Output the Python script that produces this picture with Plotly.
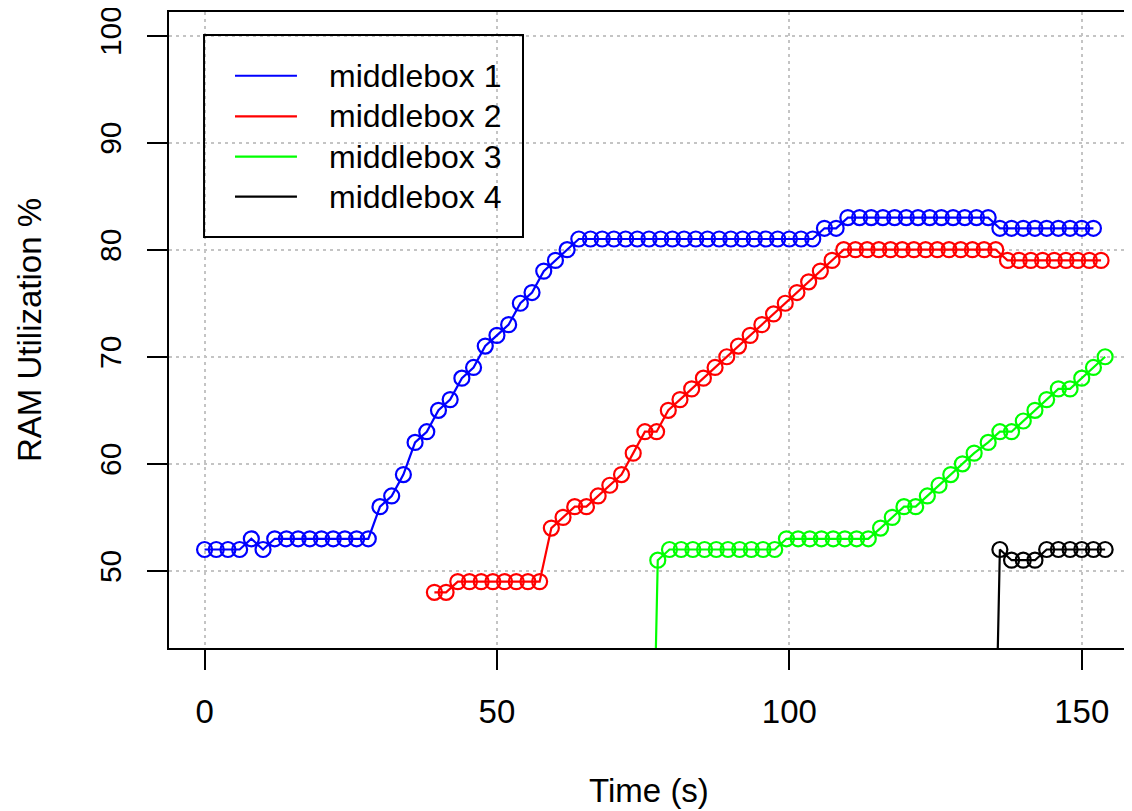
import plotly.graph_objects as go

# ---- data ----
series_names = ["middlebox 1", "middlebox 2", "middlebox 3", "middlebox 4"]
series_colors = ["#0000FF", "#FF0000", "#00FF00", "#000000"]

mb1_time = [0, 2, 4, 6, 8, 10, 12, 14, 16, 18, 20, 22, 24, 26, 28, 30, 32, 34, 36, 38,
            40, 42, 44, 46, 48, 50, 52, 54, 56, 58, 60, 62, 64, 66, 68, 70, 72, 74, 76, 78,
            80, 82, 84, 86, 88, 90, 92, 94, 96, 98, 100, 102, 104, 106, 108, 110, 112, 114,
            116, 118, 120, 122, 124, 126, 128, 130, 132, 134, 136, 138, 140, 142, 144, 146,
            148, 150, 152]
mb1_ram = [52, 52, 52, 52, 53, 52, 53, 53, 53, 53, 53, 53, 53, 53, 53, 56, 57, 59, 62, 63,
           65, 66, 68, 69, 71, 72, 73, 75, 76, 78, 79, 80, 81, 81, 81, 81, 81, 81, 81, 81,
           81, 81, 81, 81, 81, 81, 81, 81, 81, 81, 81, 81, 81, 82, 82, 83, 83, 83, 83, 83,
           83, 83, 83, 83, 83, 83, 83, 83, 82, 82, 82, 82, 82, 82, 82, 82, 82]

mb2_time = [39.3, 41.3, 43.3, 45.3, 47.3, 49.3, 51.3, 53.3, 55.3, 57.3, 59.3, 61.3, 63.3,
            65.3, 67.3, 69.3, 71.3, 73.3, 75.3, 77.3, 79.3, 81.3, 83.3, 85.3, 87.3, 89.3,
            91.3, 93.3, 95.3, 97.3, 99.3, 101.3, 103.3, 105.3, 107.3, 109.3, 111.3, 113.3,
            115.3, 117.3, 119.3, 121.3, 123.3, 125.3, 127.3, 129.3, 131.3, 133.3, 135.3,
            137.3, 139.3, 141.3, 143.3, 145.3, 147.3, 149.3, 151.3, 153.3]
mb2_ram = [48, 48, 49, 49, 49, 49, 49, 49, 49, 49, 54, 55, 56, 56, 57, 58, 59, 61, 63, 63,
           65, 66, 67, 68, 69, 70, 71, 72, 73, 74, 75, 76, 77, 78, 79, 80, 80, 80, 80, 80,
           80, 80, 80, 80, 80, 80, 80, 80, 80, 79, 79, 79, 79, 79, 79, 79, 79, 79]

mb3_time = [75.5, 77.5, 79.5, 81.5, 83.5, 85.5, 87.5, 89.5, 91.5, 93.5, 95.5, 97.5, 99.5,
            101.5, 103.5, 105.5, 107.5, 109.5, 111.5, 113.5, 115.6, 117.6, 119.6, 121.6,
            123.6, 125.6, 127.6, 129.6, 131.6, 134.0, 136.0, 138.0, 140.0, 142.0, 144.0,
            146.0, 148.0, 150.0, 152.0, 154.0]
mb3_ram = [0, 51, 52, 52, 52, 52, 52, 52, 52, 52, 52, 52, 53, 53, 53, 53, 53, 53, 53, 53,
           54, 55, 56, 56, 57, 58, 59, 60, 61, 62, 63, 63, 64, 65, 66, 67, 67, 68, 69, 70]

mb4_time = [134, 136, 138, 140, 142, 144, 146, 148, 150, 152, 154]
mb4_ram = [0, 52, 51, 51, 51, 52, 52, 52, 52, 52, 52]

x_ticks = [0, 50, 100, 150]
y_ticks = [50, 60, 70, 80, 90, 100]
x_range = [-6.08, 158.08]
y_range = [42.8, 102.2]

times = [mb1_time, mb2_time, mb3_time, mb4_time]
values = [mb1_ram, mb2_ram, mb3_ram, mb4_ram]

fig = go.Figure()
for name, col, t, v in zip(series_names, series_colors, times, values):
    fig.add_trace(go.Scatter(
        x=t, y=v, mode="lines+markers", name=name, showlegend=False,
        line=dict(color=col, width=2.2),
        marker=dict(symbol="circle-open", size=15, color=col, line=dict(color=col, width=2.2)),
    ))

axis_common = dict(
    showline=True, mirror=True, linecolor="black", linewidth=2,
    ticks="outside", ticklen=20, tickwidth=2, tickcolor="black",
    showgrid=True, gridcolor="#c4c4c4", gridwidth=1.5, griddash="3px,4px",
    zeroline=False, automargin=False, ticklabeloverflow="allow",
)

fig.update_xaxes(range=x_range, tickvals=x_ticks, ticklabelstandoff=13,
                 tickfont=dict(size=33, color="black"),
                 title=dict(text="Time (s)", font=dict(size=33), standoff=50),
                 **axis_common)
fig.update_yaxes(range=y_range, tickvals=y_ticks, tickangle=-90, ticklabelstandoff=14,
                 tickfont=dict(size=30, color="black"),
                 title=dict(text="RAM Utilization %", font=dict(size=33), standoff=42),
                 **axis_common)

# legend drawn as in the reference: box, line samples and labels (paper coordinates)
legend_box = dict(x0=0.0365, x1=0.36875, y0=0.6462, y1=0.9638)
legend_rows_y = [0.8998, 0.8360, 0.7725, 0.7096]
sample_x = [0.06875, 0.1333]
label_x = 0.1646

fig.add_shape(type="rect", xref="paper", yref="paper", line=dict(color="black", width=2),
              fillcolor="rgba(0,0,0,0)", layer="above", **legend_box)
for name, col, ry in zip(series_names, series_colors, legend_rows_y):
    fig.add_shape(type="line", xref="paper", yref="paper", x0=sample_x[0], x1=sample_x[1],
                  y0=ry, y1=ry, line=dict(color=col, width=2.2), layer="above")
    fig.add_annotation(x=label_x, y=ry, xref="paper", yref="paper", text=name,
                       showarrow=False, xanchor="left", yanchor="middle",
                       font=dict(size=32, color="black"))

# the page adds an 8px body margin, so the figure is sized to end at the window edge
fig.update_layout(
    width=1124, height=803,
    margin=dict(l=161, r=3, t=4, b=163),
    plot_bgcolor="white", paper_bgcolor="white",
    font=dict(family="Liberation Sans, Arial, sans-serif", size=33, color="black"),
    showlegend=False,
)

fig.write_html("out.html")
